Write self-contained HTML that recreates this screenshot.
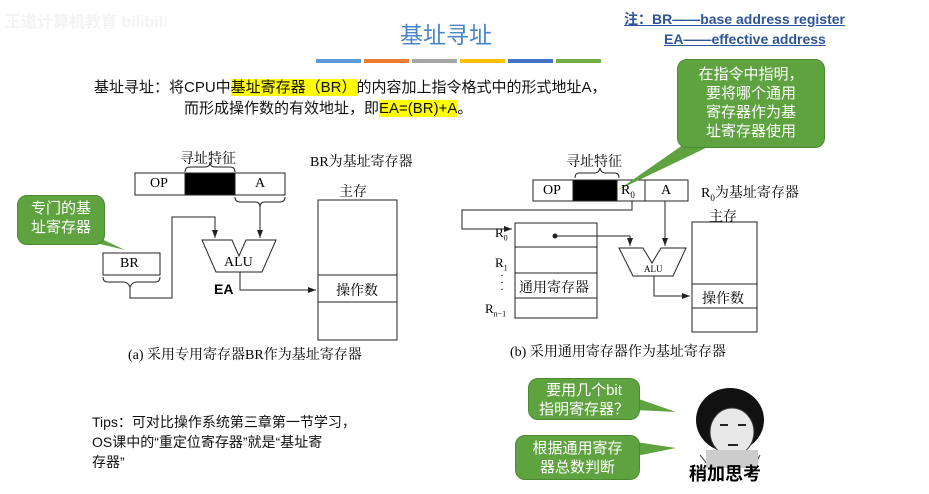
<!DOCTYPE html>
<html><head><meta charset="utf-8"><style>
body{margin:0;width:929px;height:494px;background:#fff;overflow:hidden;position:relative;font-family:"Liberation Sans","Noto Sans CJK SC",sans-serif}
.a{position:absolute;white-space:nowrap}
.hl{background:#ffff00}
.bub{position:absolute;background:#5ea33f;border:1px solid #4a8a30;border-radius:10px;color:#fff;font-size:15px;line-height:19px;text-align:center}
.serif{font-family:"Liberation Serif","Noto Serif CJK SC",serif}
</style></head><body>
<div class="a" style="left:5px;top:8px;font-size:16px;color:#f3f3f3;font-weight:bold">王道计算机教育 bilibili</div>
<div class="a" style="left:400px;top:16px;font-size:23px;color:#4a86c5">基址寻址</div>
<div class="a" style="left:316px;top:59px;width:45px;height:4px;background:#5b9bd5"></div>
<div class="a" style="left:364px;top:59px;width:45px;height:4px;background:#ed7d31"></div>
<div class="a" style="left:412px;top:59px;width:45px;height:4px;background:#a5a5a5"></div>
<div class="a" style="left:460px;top:59px;width:45px;height:4px;background:#ffc000"></div>
<div class="a" style="left:508px;top:59px;width:45px;height:4px;background:#4472c4"></div>
<div class="a" style="left:556px;top:59px;width:45px;height:4px;background:#70ad47"></div>
<div class="a" style="left:624px;top:9px;font-size:14px;color:#2f5597;font-weight:bold;text-decoration:underline">注：BR——base address register</div>
<div class="a" style="left:664px;top:31px;font-size:14px;color:#2f5597;font-weight:bold;text-decoration:underline">EA——effective address</div>
<div class="a" style="left:94px;top:76px;font-size:15px;color:#111">基址寻址：将CPU中<span class="hl">基址寄存器（BR）</span>的内容加上指令格式中的形式地址A，</div>
<div class="a" style="left:184px;top:97px;font-size:15px;color:#111">而形成操作数的有效地址，即<span class="hl">EA=(BR)+A</span>。</div>

<svg class="a" style="left:0;top:0" width="929" height="494">
<defs><marker id="ar" markerWidth="8" markerHeight="6" refX="8" refY="3" orient="auto"><path d="M0,0L8,3L0,6z" fill="#222"/></marker></defs>
<g stroke="#222" stroke-width="1" fill="none">
<rect x="135" y="173" width="150" height="22" fill="#fff"/>
<rect x="185" y="173" width="50" height="22" fill="#000"/>
<path d="M185,172q0,-5 5,-5h15q5,0 5,-5q0,5 5,5h15q5,0 5,5"/>
<path d="M235,197q0,5 5,5h15q5,0 5,5q0,-5 5,-5h15q5,0 5,-5"/>
<path d="M260,207V238" marker-end="url(#ar)"/>
<rect x="103" y="253" width="57" height="22" fill="#fff"/>
<path d="M103,277q0,5 5,5h15q5,0 7,5q2,-5 7,-5h18q5,0 5,-5"/>
<path d="M130,287V298H172V217H215V238" marker-end="url(#ar)"/>
<path d="M202,240H232L239,256L246,240H276L262,272H216Z" fill="#fff"/>
<path d="M240,272V290H316" marker-end="url(#ar)"/>
<rect x="318" y="200" width="79" height="140"/>
<path d="M318,275H397M318,302H397"/>
<rect x="533" y="180" width="155" height="21" fill="#fff"/>
<rect x="573" y="180" width="44" height="21" fill="#000"/>
<path d="M645,180V201"/>
<path d="M575,178q0,-5 4,-5h16q4,0 5,-5q1,5 5,5h10q4,0 4,5"/>
<path d="M632,201V210H462V229H512" marker-end="url(#ar)"/>
<rect x="515" y="223" width="82" height="95"/>
<path d="M515,247H597M515,273H597M515,298H597"/>
<path d="M555,236H630V246" marker-end="url(#ar)"/>
<path d="M665,201V246" marker-end="url(#ar)"/>
<path d="M619,248H643L652,263L661,248H686L673,276H633Z" fill="#fff"/>
<path d="M654,276V296H690" marker-end="url(#ar)"/>
<rect x="692" y="222" width="65" height="110"/>
<path d="M692,284H757M692,308H757"/>
</g>
<circle cx="555" cy="236" r="2.5" fill="#222"/>
<path d="M95,236L125,250L100,244Z" fill="#5ea33f"/>
<path d="M690,140L618,190L710,146Z" fill="#5ea33f"/>
<path d="M636,398L676,412L636,410Z" fill="#5ea33f"/>
<path d="M636,442L676,448L636,456Z" fill="#5ea33f"/>
<ellipse cx="730" cy="420" rx="34" ry="32" fill="#111"/>
<ellipse cx="732" cy="432" rx="22" ry="24" fill="#e8e8e8" stroke="#333"/>
<path d="M700,455L712,470M760,455L752,470" stroke="#333" fill="none"/>
<rect x="706" y="450" width="52" height="18" fill="#ccc"/>
<path d="M720,425h8M738,425h8M728,445h10" stroke="#222" stroke-width="2"/>
</svg>

<div class="a serif" style="left:180px;top:148px;font-size:14px">寻址特征</div>
<div class="a serif" style="left:150px;top:176px;font-size:14px">OP</div>
<div class="a serif" style="left:255px;top:176px;font-size:14px">A</div>
<div class="a serif" style="left:310px;top:151px;font-size:14px">BR为基址寄存器</div>
<div class="a serif" style="left:339px;top:181px;font-size:14px">主存</div>
<div class="a serif" style="left:120px;top:256px;font-size:14px">BR</div>
<div class="a serif" style="left:224px;top:255px;font-size:14px">ALU</div>
<div class="a" style="left:214px;top:281px;font-size:14px;font-weight:bold">EA</div>
<div class="a serif" style="left:336px;top:280px;font-size:14px">操作数</div>
<div class="a serif" style="left:128px;top:344px;font-size:14px">(a) 采用专用寄存器BR作为基址寄存器</div>

<div class="a serif" style="left:566px;top:151px;font-size:14px">寻址特征</div>
<div class="a serif" style="left:543px;top:183px;font-size:14px">OP</div>
<div class="a serif" style="left:621px;top:183px;font-size:14px">R<sub style="font-size:9px">0</sub></div>
<div class="a serif" style="left:661px;top:183px;font-size:14px">A</div>
<div class="a serif" style="left:701px;top:182px;font-size:14px">R<sub style="font-size:9px">0</sub>为基址寄存器</div>
<div class="a serif" style="left:709px;top:206px;font-size:14px">主存</div>
<div class="a serif" style="left:495px;top:225px;font-size:13px">R<sub style="font-size:8px">0</sub></div>
<div class="a serif" style="left:495px;top:255px;font-size:13px">R<sub style="font-size:8px">1</sub></div>
<div class="a serif" style="left:500px;top:272px;font-size:12px;line-height:7px">·<br>·<br>·</div>
<div class="a serif" style="left:485px;top:301px;font-size:13px">R<sub style="font-size:8px">n−1</sub></div>
<div class="a serif" style="left:519px;top:277px;font-size:14px">通用寄存器</div>
<div class="a serif" style="left:644px;top:264px;font-size:9px">ALU</div>
<div class="a serif" style="left:702px;top:288px;font-size:14px">操作数</div>
<div class="a serif" style="left:510px;top:341px;font-size:14px">(b) 采用通用寄存器作为基址寄存器</div>

<div class="bub" style="left:17px;top:195px;width:88px;height:50px;padding-top:3px;box-sizing:border-box">专门的基<br>址寄存器</div>
<div class="bub" style="left:677px;top:59px;width:148px;height:89px;padding-top:5px;box-sizing:border-box">在指令中指明，<br>要将哪个通用<br>寄存器作为基<br>址寄存器使用</div>
<div class="bub" style="left:528px;top:378px;width:112px;height:42px;padding-top:2px;box-sizing:border-box">要用几个bit<br>指明寄存器？</div>
<div class="bub" style="left:515px;top:435px;width:125px;height:45px;padding-top:3px;box-sizing:border-box">根据通用寄存<br>器总数判断</div>
<div class="a" style="left:689px;top:460px;font-size:18px;font-weight:bold">稍加思考</div>

<div class="a" style="left:92px;top:412px;font-size:14px;line-height:20px;color:#111">Tips：可对比操作系统第三章第一节学习，<br>OS课中的“重定位寄存器”就是“基址寄<br>存器”</div>
</body></html>
